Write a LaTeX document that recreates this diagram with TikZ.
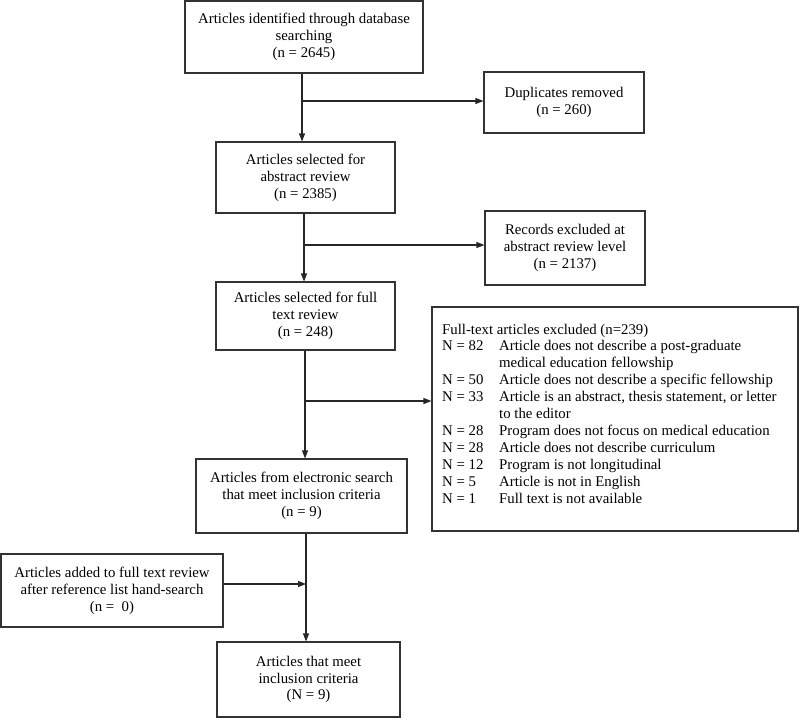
\documentclass[tikz,border=0pt]{standalone}
\usepackage{fontspec}
\setmainfont{Liberation Serif}
\usetikzlibrary{arrows.meta}
\begin{document}
\begin{tikzpicture}[x=1pt,y=-1pt,
  box/.style={draw=black!80,line width=1.1pt,align=center,inner sep=0pt,font=\fontsize{14.8}{16.9}\selectfont},
  arr/.style={draw=black!85,line width=1.1pt,-{Triangle[length=8pt,width=6pt]}}]
\useasboundingbox (0,0) rectangle (800,718);
\node[box,minimum width=238pt,minimum height=72pt] (b1) at (304,37) {Articles identified through database\\searching\\(n = 2645)};
\node[box,minimum width=160pt,minimum height=61pt] (dup) at (564,102.5) {Duplicates removed\\(n = 260)};
\node[box,minimum width=179pt,minimum height=71pt] (b2) at (305.5,177.5) {Articles selected for\\abstract review\\(n = 2385)};
\node[box,minimum width=160pt,minimum height=74pt] (rec) at (565,248) {Records excluded at\\abstract review level\\(n = 2137)};
\node[box,minimum width=179pt,minimum height=68pt] (b3) at (305.5,316) {Articles selected for full\\text review\\(n = 248)};
\node[box,minimum width=366pt,minimum height=224pt] (exbox) at (615,419) {};
\node[anchor=north west,inner sep=0pt,font=\fontsize{14.8}{16.9}\selectfont] (extext) at (442,322) {%
\begin{tabular}{@{}p{57pt}@{}l@{}}
\multicolumn{2}{@{}l@{}}{Full-text articles excluded (n=239)}\\
N = 82 & Article does not describe a post-graduate\\
 & medical education fellowship\\
N = 50 & Article does not describe a specific fellowship\\
N = 33 & Article is an abstract, thesis statement, or letter\\
 & to the editor\\
N = 28 & Program does not focus on medical education\\
N = 28 & Article does not describe curriculum\\
N = 12 & Program is not longitudinal\\
N = 5 & Article is not in English\\
N = 1 & Full text is not available
\end{tabular}};
\node[box,minimum width=211pt,minimum height=74pt] (b4) at (301.5,496) {Articles from electronic search\\that meet inclusion criteria\\(n = 9)};
\node[box,minimum width=222pt,minimum height=73pt] (add) at (112,590.5) {Articles added to full text review\\after reference list hand-search\\(n =\ \ 0)};
\node[box,minimum width=183pt,minimum height=75pt] (fin) at (308.5,679.5) {Articles that meet\\inclusion criteria\\(N = 9)};
\coordinate (x1) at (302,0);
\coordinate (x2) at (304,0);
\coordinate (x3) at (305,0);
\coordinate (x4) at (306,0);
\coordinate (j1) at (302,101);
\coordinate (j2) at (304,245);
\coordinate (j3) at (305,401);
\coordinate (j4) at (306,584);
\draw[arr] (b1.south -| x1) -- (b2.north -| x1);
\draw[arr] (j1) -- (j1 -| dup.west);
\draw[arr] (b2.south -| x2) -- (b3.north -| x2);
\draw[arr] (j2) -- (j2 -| rec.west);
\draw[arr] (b3.south -| x3) -- (b4.north -| x3);
\draw[arr] (j3) -- (j3 -| exbox.west);
\draw[arr] (b4.south -| x4) -- (fin.north -| x4);
\draw[arr] (add.east |- j4) -- (j4);
\end{tikzpicture}
\end{document}
